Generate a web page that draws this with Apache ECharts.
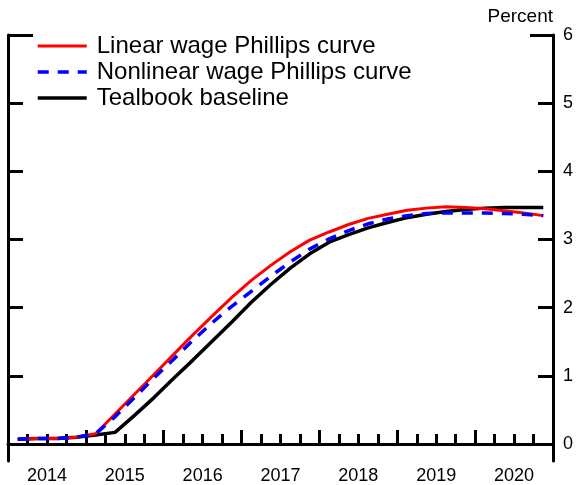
<!DOCTYPE html>
<html>
<head>
<meta charset="utf-8">
<script src="https://cdn.jsdelivr.net/npm/echarts@6/dist/echarts.min.js"></script>
<style>
html,body{margin:0;padding:0;background:#fff;}
#chart{width:580px;height:485px;}
</style>
</head>
<body>
<div id="chart"></div>
<script>
// Quarterly periods, 2014Q1 .. 2020Q4
const quarters = [
  '2014Q1','2014Q2','2014Q3','2014Q4',
  '2015Q1','2015Q2','2015Q3','2015Q4',
  '2016Q1','2016Q2','2016Q3','2016Q4',
  '2017Q1','2017Q2','2017Q3','2017Q4',
  '2018Q1','2018Q2','2018Q3','2018Q4',
  '2019Q1','2019Q2','2019Q3','2019Q4',
  '2020Q1','2020Q2','2020Q3','2020Q4'
];
const linearWPC = [
  0.07, 0.08, 0.08, 0.10,
  0.15, 0.44, 0.73, 1.02,
  1.31, 1.60, 1.88, 2.15,
  2.40, 2.62, 2.82, 2.99,
  3.11, 3.22, 3.31, 3.37,
  3.43, 3.46, 3.48, 3.47,
  3.45, 3.42, 3.39, 3.35
];
const nonlinearWPC = [
  0.07, 0.08, 0.08, 0.10,
  0.15, 0.40, 0.68, 0.97,
  1.24, 1.52, 1.78, 2.02,
  2.24, 2.46, 2.67, 2.86,
  3.01, 3.13, 3.23, 3.30,
  3.35, 3.38, 3.39, 3.39,
  3.39, 3.38, 3.37, 3.35
];
const tealbook = [
  0.07, 0.08, 0.08, 0.10,
  0.13, 0.17, 0.42, 0.68,
  0.96, 1.23, 1.51, 1.79,
  2.08, 2.34, 2.58, 2.79,
  2.96, 3.07, 3.17, 3.25,
  3.32, 3.37, 3.41, 3.44,
  3.46, 3.47, 3.47, 3.47
];
const seriesNames = ['Linear wage Phillips curve', 'Nonlinear wage Phillips curve', 'Tealbook baseline'];
const yearLabels = [2014, 2015, 2016, 2017, 2018, 2019, 2020];
const yTicks = [0, 1, 2, 3, 4, 5, 6];
const yUnit = 'Percent';

// quarter label -> position on a continuous year axis (middle of quarter)
function qPos(q) {
  const y = parseInt(q.slice(0, 4), 10);
  const n = parseInt(q.slice(5), 10);
  return y + (n - 0.5) / 4;
}
function pairs(vals) { return vals.map((v, i) => [qPos(quarters[i]), v]); }

const FONT = 'Liberation Sans, Arial, Helvetica, sans-serif';
const YMIN = -0.25, YMAX = 6;
const axisLine = { show: true, lineStyle: { color: '#000', width: 3 } };

const chart = echarts.init(document.getElementById('chart'), null, { renderer: 'canvas' });
chart.setOption({
  animation: false,
  backgroundColor: '#fff',
  textStyle: { fontFamily: FONT },
  grid: { left: 8, right: 27, top: 35, bottom: 22, containLabel: false },
  legend: {
    orient: 'vertical',
    left: 36, top: 34, padding: 0,
    itemWidth: 49, itemHeight: 14, itemGap: 2,
    itemStyle: { opacity: 0, borderWidth: 0 },
    lineStyle: { width: 'inherit' },
    textStyle: { fontSize: 24, lineHeight: 24, color: '#000', fontFamily: FONT, padding: [0, 0, 0, 5] },
    data: seriesNames
  },
  xAxis: {
    type: 'value',
    min: yearLabels[0], max: yearLabels[yearLabels.length - 1] + 1, interval: 1,
    position: 'bottom',
    axisLine: axisLine,
    axisTick: { show: true, inside: true, length: 14, lineStyle: { color: '#000', width: 3 } },
    minorTick: { show: true, splitNumber: 4, length: 10, lineStyle: { color: '#000', width: 3 } },
    splitLine: { show: false },
    minorSplitLine: { show: false },
    axisLabel: {
      customValues: yearLabels.map(y => y + 0.5),
      formatter: v => String(Math.floor(v)),
      fontSize: 18, color: '#000', margin: 6, fontFamily: FONT
    }
  },
  yAxis: [
    {
      type: 'value', position: 'left', min: YMIN, max: YMAX,
      axisLine: axisLine,
      axisTick: { show: true, inside: true, length: 15, customValues: yTicks.slice(0, -1), lineStyle: { color: '#000', width: 3 } },
      axisLabel: { show: false },
      splitLine: { show: false }
    },
    {
      type: 'value', position: 'right', min: YMIN, max: YMAX,
      name: yUnit, nameLocation: 'end', nameGap: 9,
      nameTextStyle: { fontSize: 19, color: '#000', align: 'right', verticalAlign: 'bottom', fontFamily: FONT },
      axisLine: axisLine,
      axisTick: { show: true, inside: true, length: 15, customValues: yTicks.slice(0, -1), lineStyle: { color: '#000', width: 3 } },
      axisLabel: { show: true, customValues: yTicks, fontSize: 18, color: '#000', margin: 10, fontFamily: FONT },
      splitLine: { show: false }
    },
    {
      type: 'value', position: 'left', min: YMIN, max: YMAX,
      axisLine: { show: false },
      axisTick: { show: true, inside: true, length: 25, customValues: [yTicks[yTicks.length - 1]], lineStyle: { color: '#000', width: 3 } },
      axisLabel: { show: false },
      splitLine: { show: false }
    },
    {
      type: 'value', position: 'right', min: YMIN, max: YMAX,
      axisLine: { show: false },
      axisTick: { show: true, inside: true, length: 23, customValues: [yTicks[yTicks.length - 1]], lineStyle: { color: '#000', width: 3 } },
      axisLabel: { show: false },
      splitLine: { show: false }
    }
  ],
  series: [
    {
      name: seriesNames[0], type: 'line', yAxisIndex: 1, symbol: 'none', z: 3,
      data: pairs(linearWPC),
      lineStyle: { color: '#ff0000', width: 3 },
      itemStyle: { color: '#ff0000' }
    },
    {
      name: seriesNames[1], type: 'line', yAxisIndex: 1, symbol: 'none', z: 4,
      data: pairs(nonlinearWPC),
      lineStyle: { color: '#0000ff', width: 3.5, type: [11, 9], cap: 'butt' },
      itemStyle: { color: '#0000ff' }
    },
    {
      name: seriesNames[2], type: 'line', yAxisIndex: 1, symbol: 'none', z: 2,
      data: pairs(tealbook),
      lineStyle: { color: '#000000', width: 3.5 },
      itemStyle: { color: '#000000' }
    }
  ]
});
</script>
</body>
</html>
